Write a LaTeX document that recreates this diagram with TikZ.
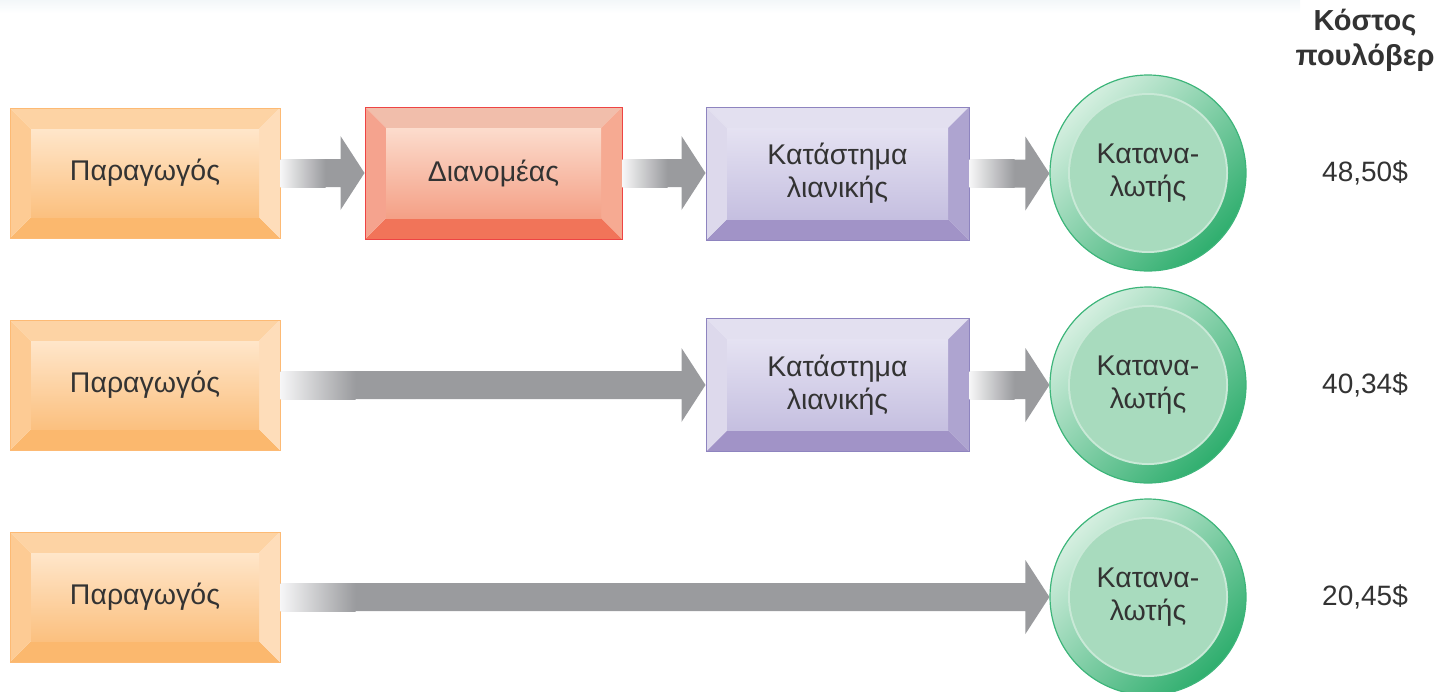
\documentclass[tikz,border=0pt]{standalone}
\usepackage{fontspec}
\setmainfont{Liberation Sans}
\usetikzlibrary{calc}
\definecolor{txt}{HTML}{333333}
\definecolor{arrG}{HTML}{9A9B9E}
\definecolor{arrL}{HTML}{F6F6F7}
% orange (producer)
\definecolor{orD}{HTML}{FDBA74}
\definecolor{orT}{HTML}{FDD3A4}
\definecolor{orL}{HTML}{FDCB94}
\definecolor{orR}{HTML}{FEDDBA}
\definecolor{orB}{HTML}{FBB86E}
\definecolor{orIT}{HTML}{FFE6CA}
\definecolor{orIB}{HTML}{FBC07F}
% red (distributor)
\definecolor{rdD}{HTML}{EE4444}
\definecolor{rdT}{HTML}{F1BEAB}
\definecolor{rdL}{HTML}{F5A38E}
\definecolor{rdR}{HTML}{F6AA92}
\definecolor{rdB}{HTML}{F17459}
\definecolor{rdIT}{HTML}{FCDCCD}
\definecolor{rdIB}{HTML}{F4A086}
% purple (retail)
\definecolor{puD}{HTML}{8E84BF}
\definecolor{puT}{HTML}{E3E0F0}
\definecolor{puL}{HTML}{DDD9EC}
\definecolor{puR}{HTML}{AEA4D0}
\definecolor{puB}{HTML}{A193C7}
\definecolor{puIT}{HTML}{E5E2F2}
\definecolor{puIB}{HTML}{C5BFE0}
% green (consumer)
\definecolor{gB}{HTML}{3DB57A}
\definecolor{gL}{HTML}{D5EFE0}
\definecolor{gM}{HTML}{C3E6D1}
\definecolor{gD}{HTML}{2FAE6E}
\definecolor{gE}{HTML}{C9E9D7}
\definecolor{gI}{HTML}{A8DBBE}
\definecolor{bgT}{HTML}{F3F7F9}
\newcommand\boxfont{\fontsize{28.5}{33}\selectfont}
\newcommand\flowarrow[3]{%
  \fill[arrG] let \p1=(#1.east), \p2=(#2.west) in
    (\x1,\y1-14pt) -- (\x2-24pt,\y1-14pt) -- (\x2-24pt,\y1-37pt) -- (\x2,\y1)
    -- (\x2-24pt,\y1+37pt) -- (\x2-24pt,\y1+14pt) -- (\x1,\y1+14pt) -- cycle;
  \shade[left color=arrL, right color=arrG] let \p1=(#1.east) in
    (\x1,\y1-14pt) rectangle (\x1+#3pt,\y1+14pt);
}
\tikzset{
  bevel/.style={rectangle, draw=#1D, line width=1pt, inner sep=0pt, align=center,
    font=\boxfont, text=txt,
    path picture={
      \path (path picture bounding box.north west) coordinate (bNW)
            (path picture bounding box.south east) coordinate (bSE);
      \path (bNW) ++(21,21) coordinate (iNW) (bSE) ++(-21,-21) coordinate (iSE);
      \fill[#1T] (bNW) -- (bSE |- bNW) -- (iSE |- iNW) -- (iNW) -- cycle;
      \fill[#1B] (bNW |- bSE) -- (bSE) -- (iSE) -- (iNW |- iSE) -- cycle;
      \fill[#1L] (bNW) -- (iNW) -- (iNW |- iSE) -- (bNW |- bSE) -- cycle;
      \fill[#1R] (bSE |- bNW) -- (iSE |- iNW) -- (iSE) -- (bSE) -- cycle;
      \shade[top color=#1IT, bottom color=#1IB] (iNW) rectangle (iSE);
    }},
  consumer/.style={circle, minimum size=196pt, inner sep=0pt, draw=gB, line width=1.2pt,
    align=center, font=\boxfont, text=txt,
    path picture={
      \shade[top color=gL, middle color=gM, bottom color=gD, shading angle=45]
        (path picture bounding box.south west) rectangle (path picture bounding box.north east);
      \fill[gE] (path picture bounding box.center) circle (80pt);
      \fill[gI] (path picture bounding box.center) circle (78pt);
    }},
  price/.style={font=\fontsize{28}{33}\selectfont, text=txt, inner sep=0pt},
  header/.style={font=\fontsize{29}{35}\selectfont\bfseries, text=txt, align=center, inner sep=0pt}
}
\begin{document}
\begin{tikzpicture}[x=1pt,y=-1pt]
\useasboundingbox (0,0) rectangle (1437,691);
\shade[top color=bgT, bottom color=white] (0,0) rectangle (1300,13);
% row 1
\node[bevel=or, minimum width=270pt, minimum height=130pt] (p1) at (145,173) {Παραγωγός};
\node[bevel=rd, minimum width=257pt, minimum height=132pt] (d1) at (493.5,173) {Διανομέας};
\node[bevel=pu, minimum width=263pt, minimum height=133pt] (r1) at (837.5,173.5) {Κατάστημα\\λιανικής};
\node[consumer] (c1) at (1148,173) {Κατανα-\\λωτής};
\node[price] (v1) at (1365,173) {48,50\$};
% row 2
\node[bevel=or, minimum width=270pt, minimum height=130pt] (p2) at (145,385) {Παραγωγός};
\node[bevel=pu, minimum width=263pt, minimum height=133pt] (r2) at (837.5,385) {Κατάστημα\\λιανικής};
\node[consumer] (c2) at (1148,385) {Κατανα-\\λωτής};
\node[price] (v2) at (1365,385) {40,34\$};
% row 3
\node[bevel=or, minimum width=270pt, minimum height=130pt] (p3) at (145,597) {Παραγωγός};
\node[consumer] (c3) at (1148,597) {Κατανα-\\λωτής};
\node[price] (v3) at (1365,597) {20,45\$};
% header
\node[header] (h) at (1365,40) {Κόστος\\πουλόβερ};
% arrows
\flowarrow{p1}{d1}{45}
\flowarrow{d1}{r1}{45}
\flowarrow{r1}{c1}{45}
\flowarrow{p2}{r2}{75}
\flowarrow{r2}{c2}{45}
\flowarrow{p3}{c3}{75}
\end{tikzpicture}
\end{document}
